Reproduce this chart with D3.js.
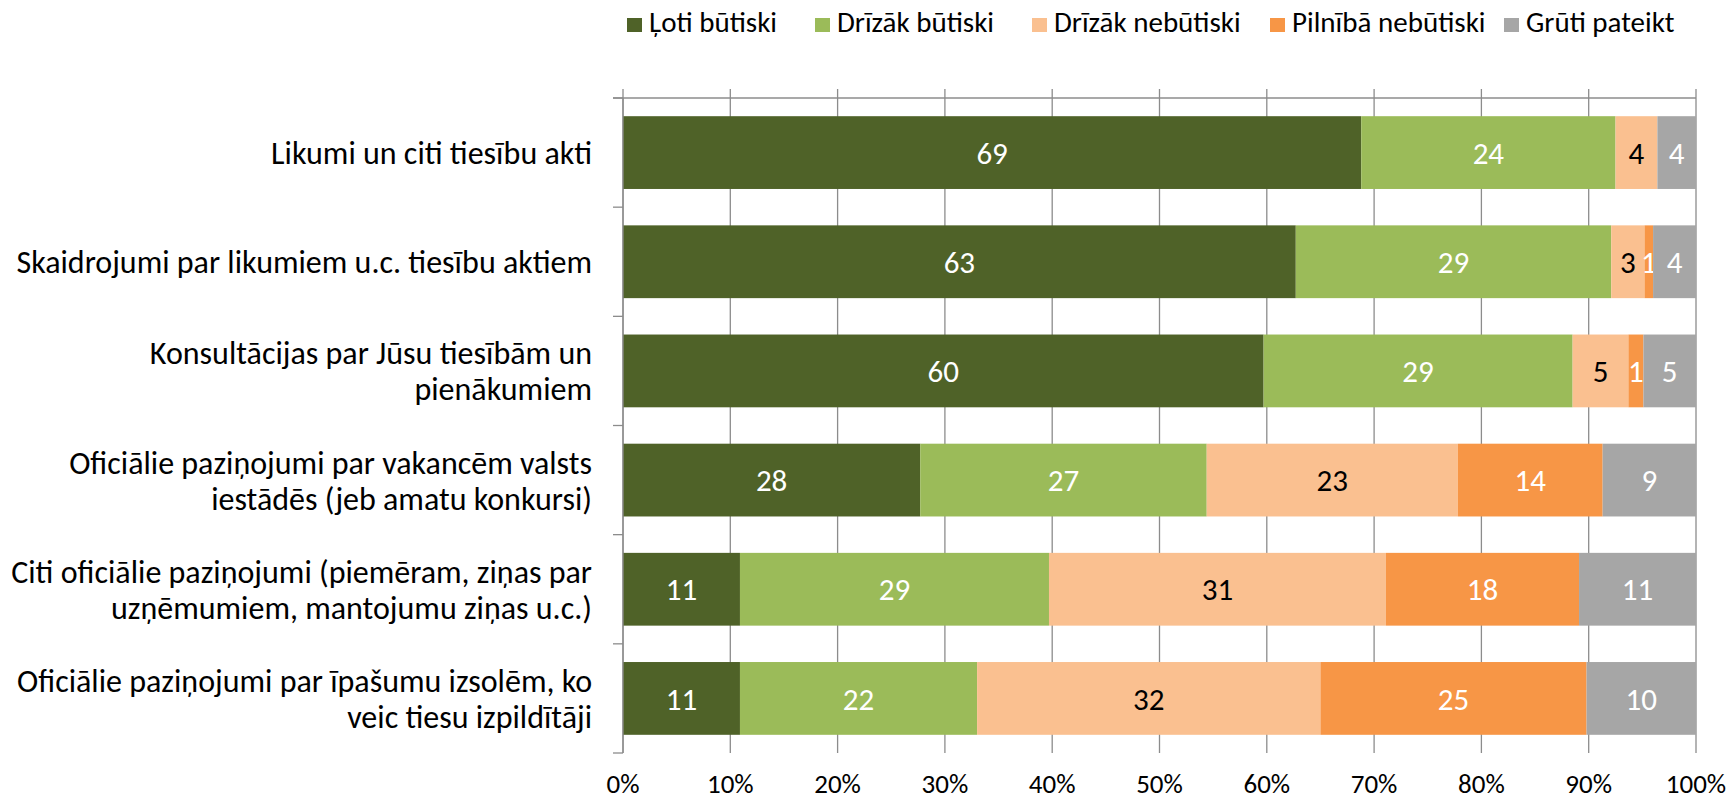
<!DOCTYPE html>
<html>
<head>
<meta charset="utf-8">
<script src="https://cdn.jsdelivr.net/npm/d3@7"></script>
<style>
    body { margin: 0; background: #fff; }
    .barChart text { font-family: Carlito, Calibri, Lato, sans-serif; }
</style>
</head>
<body>
<div class="barChart"></div>
<script>
// categories (line breaks as in the original labels)
var categories = [
    "Likumi un citi tiesību akti",
    "Skaidrojumi par likumiem u.c. tiesību aktiem",
    "Konsultācijas par Jūsu tiesībām un\npienākumiem",
    "Oficiālie paziņojumi par vakancēm valsts\niestādēs (jeb amatu konkursi)",
    "Citi oficiālie paziņojumi (piemēram, ziņas par\nuzņēmumiem, mantojumu ziņas u.c.)",
    "Oficiālie paziņojumi par īpašumu izsolēm, ko\nveic tiesu izpildītāji"
];

var seriesNames = ["Ļoti būtiski", "Drīzāk būtiski", "Drīzāk nebūtiski", "Pilnībā nebūtiski", "Grūti pateikt"];

// values in %, one entry per category
var lotiButiski      = [68.8, 62.7, 59.7, 27.7, 10.9, 10.9];
var drizakButiski    = [23.7, 29.4, 28.8, 26.7, 28.8, 22.1];
var drizakNebutiski  = [3.9, 3.1, 5.2, 23.4, 31.4, 32.0];
var pilnibaNebutiski = [0, 0.8, 1.4, 13.5, 18.0, 24.8];
var grutiPateikt     = [3.6, 4.0, 4.9, 8.7, 10.9, 10.2];

var tickValues = [0, 0.1, 0.2, 0.3, 0.4, 0.5, 0.6, 0.7, 0.8, 0.9, 1];

var colors = ["#4f6228", "#9bbb59", "#fac090", "#f79646", "#a6a6a6"];
var labelColors = ["#fff", "#fff", "#000", "#fff", "#fff"];

document.addEventListener('DOMContentLoaded', function() {
    barChart();
});

function barChart() {
    var allSeries = [lotiButiski, drizakButiski, drizakNebutiski, pilnibaNebutiski, grutiPateikt];

    var rows = categories.map(function(c, i) {
        var r = { category: c };
        seriesNames.forEach(function(s, j) { r[s] = allSeries[j][i]; });
        return r;
    });

    var totalWidth = 1729, totalHeight = 799;
    var margin = {top: 98, right: 33, bottom: 46, left: 623},
        width = totalWidth - margin.left - margin.right,
        height = totalHeight - margin.top - margin.bottom;

    var svg = d3.select(".barChart")
        .append("svg")
            .attr("width", totalWidth)
            .attr("height", totalHeight);

    var g = svg.append("g")
        .attr("transform", "translate(" + margin.left + "," + margin.top + ")");

    var x = d3.scaleLinear().domain([0, 1]).range([0, width]);
    var y = d3.scaleBand()
        .domain(categories)
        .range([0, height])
        .paddingInner(1 / 3)
        .paddingOuter(1 / 6);

    var stacked = d3.stack()
        .keys(seriesNames)
        .offset(d3.stackOffsetExpand)(rows);

    // vertical gridlines (ticks cross the top axis line)
    g.selectAll(".grid")
        .data(tickValues)
        .enter().append("line")
            .attr("class", "grid")
            .attr("x1", function(d) { return x(d); })
            .attr("x2", function(d) { return x(d); })
            .attr("y1", -9)
            .attr("y2", height)
            .attr("stroke", "#8c8c8c")
            .attr("stroke-width", 1.3);

    // top axis line
    g.append("line")
        .attr("x1", -10).attr("x2", width)
        .attr("y1", 0).attr("y2", 0)
        .attr("stroke", "#8c8c8c")
        .attr("stroke-width", 1.3);

    // category axis ticks at band edges
    var edges = d3.range(categories.length + 1).map(function(i) { return i * y.step(); });
    g.selectAll(".ytick")
        .data(edges)
        .enter().append("line")
            .attr("x1", -10).attr("x2", 0)
            .attr("y1", function(d) { return d; })
            .attr("y2", function(d) { return d; })
            .attr("stroke", "#8c8c8c")
            .attr("stroke-width", 1.3);

    // bars
    var layer = g.selectAll(".layer")
        .data(stacked)
        .enter().append("g")
            .attr("class", "layer")
            .attr("fill", function(d, i) { return colors[i]; });

    layer.selectAll("rect")
        .data(function(d) { return d; })
        .enter().append("rect")
            .attr("x", function(d) { return x(d[0]); })
            .attr("y", function(d) { return y(d.data.category); })
            .attr("width", function(d) { return x(d[1]) - x(d[0]); })
            .attr("height", y.bandwidth());

    // axis line over bars
    g.append("line")
        .attr("x1", 0).attr("x2", 0)
        .attr("y1", 0).attr("y2", height)
        .attr("stroke", "#8c8c8c")
        .attr("stroke-width", 1.3);

    // data labels
    layer.each(function(s, i) {
        d3.select(this).selectAll("text")
            .data(s.filter(function(d) { return d.data[s.key] > 0; }))
            .enter().append("text")
                .attr("x", function(d) { return (x(d[0]) + x(d[1])) / 2; })
                .attr("y", function(d) { return y(d.data.category) + y.bandwidth() / 2; })
                .attr("dy", "0.36em")
                .attr("text-anchor", "middle")
                .attr("font-size", 31)
                .attr("fill", labelColors[i])
                .text(function(d) { return Math.round(d.data[s.key]); });
    });

    // category labels
    var catLabels = g.selectAll(".cat")
        .data(categories)
        .enter().append("text")
            .attr("class", "cat")
            .attr("font-size", 32)
            .attr("fill", "#000");

    catLabels.each(function(c) {
        var lines = c.split("\n");
        var el = d3.select(this);
        var cy = y(c) + y.bandwidth() / 2;
        var lh = 36;
        lines.forEach(function(line, k) {
            el.append("tspan")
                .attr("x", -31)
                .attr("text-anchor", "end")
                .attr("y", cy + (k - (lines.length - 1) / 2) * lh)
                .attr("dy", "0.36em")
                .text(line);
        });
    });

    // x tick labels at bottom
    g.selectAll(".xlab")
        .data(tickValues)
        .enter().append("text")
            .attr("x", function(d) { return x(d); })
            .attr("y", 793 - margin.top)
            .attr("text-anchor", "middle")
            .attr("font-size", 27)
            .attr("fill", "#000")
            .text(d3.format(".0%"));

    // legend
    var legendX = [627, 815, 1032, 1270, 1504];
    var legend = svg.selectAll(".legend")
        .data(seriesNames)
        .enter().append("g")
            .attr("class", "legend")
            .attr("transform", function(d, i) { return "translate(" + legendX[i] + ",0)"; });

    legend.append("rect")
        .attr("x", 0).attr("y", 18)
        .attr("width", 15).attr("height", 14)
        .attr("fill", function(d, i) { return colors[i]; });

    legend.append("text")
        .attr("x", 22)
        .attr("y", 32)
        .attr("font-size", 29)
        .attr("fill", "#000")
        .text(function(d) { return d; });
}
</script>
</body>
</html>
